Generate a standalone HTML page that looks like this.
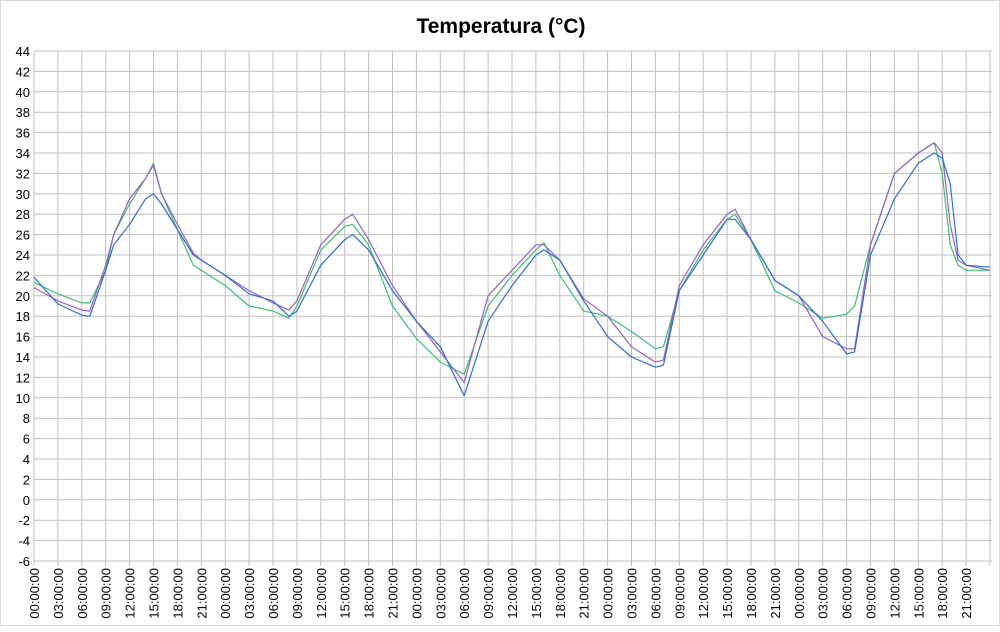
<!DOCTYPE html>
<html><head><meta charset="utf-8"><style>
body{margin:0;background:#fff;font-family:"Liberation Sans",sans-serif}
#wrap{position:relative;width:1000px;height:626px;border:1px solid #d9d9d9;box-sizing:border-box}
</style></head><body>
<div id="wrap">
<svg id="chart" width="1000" height="626"></svg>
</div>
<script>
const hours=[0,3,6,7,9,10,12,14,15,16,18,20,21,24,27,30,32,33,36,39,40,42,45,48,51,54,57,60,63,64,66,69,72,75,78,79,81,84,87,88,90,93,96,99,102,103,105,108,111,113,114,115,116,117,120];
const greenVals=[21.3,20.2,19.3,19.3,22.5,26,29,31.5,33,30,26.5,23,22.5,21,19,18.5,17.8,19,24.5,26.8,27,25,19,15.8,13.5,12.3,19,22,24.5,25.2,22,18.5,18,16.5,14.8,15,20.5,24.5,27.5,28,25.5,20.5,19.3,17.8,18.2,19,25,32,34,35,32,25,23,22.5,22.5];
const purpleVals=[20.8,19.5,18.6,18.5,23,26,29.5,31.5,32.8,30,27,24.2,23.5,22,20.5,19.3,18.6,19.5,25,27.5,28,25.5,21,17.5,14.5,11.5,20,22.5,25,25,23.5,19.7,18,15,13.5,13.7,21,25,28,28.5,25.5,21.5,20,16,14.8,14.8,25,32,34,35,34,27,23.5,23,22.5];
const blueVals=[21.8,19.2,18.1,18,22.5,25,27,29.5,30,29,26.5,24,23.5,22,20.2,19.5,18,18.5,23,25.5,26,24.5,20.5,17.5,15,10.2,17.5,21,24,24.5,23.5,19.5,16,14,13,13.2,20.5,24,27.5,27.5,25.5,21.5,20,17.5,14.3,14.5,24,29.5,33,34,33.5,31,24,23,22.8];
const yTicks=[-6,-4,-2,0,2,4,6,8,10,12,14,16,18,20,22,24,26,28,30,32,34,36,38,40,42,44];
const xTickLabels=["00:00:00","03:00:00","06:00:00","09:00:00","12:00:00","15:00:00","18:00:00","21:00:00"];
const NS="http://www.w3.org/2000/svg";
const svg=document.getElementById('chart');
const X0=33,X1=989,Y0=560,Y1=50,YMIN=-6,YMAX=44,HMAX=120;
const xs=h=>X0+(X1-X0)*h/HMAX;
const ys=v=>Y0-(Y0-Y1)*(v-YMIN)/(YMAX-YMIN);
function mk(t,a){const e=document.createElementNS(NS,t);for(const k in a)e.setAttribute(k,a[k]);svg.appendChild(e);return e;}
const title=mk('text',{x:500,y:32,'text-anchor':'middle','font-size':21,'font-weight':'bold','font-family':'Liberation Sans, sans-serif',fill:'#000'});
title.textContent='Temperatura (°C)';


yTicks.forEach(v=>{
 const l=mk('line',{x1:X0,x2:X1+2,y1:ys(v),y2:ys(v),stroke:'#bfbfbf','stroke-width':1});
 
 
 const t=mk('text',{x:29,y:ys(v)+5,'text-anchor':'end','font-size':13,fill:'#000'});
 t.textContent=v;
 
 
});
for(let i=0;i<=40;i++){
 const h=i*3,x=xs(h);
 const l=mk('line',{x1:x,x2:x,y1:Y1,y2:Y0+5,stroke:'#bfbfbf','stroke-width':1});
 
 
 if(i<40){
  const t=mk('text',{transform:`translate(${x+5},567) rotate(-90)`,'text-anchor':'end','font-size':13,fill:'#000'});
  t.textContent=xTickLabels[i%8];
  
  
 }
}
function series(vals,color,name){
 const d=hours.map((h,i)=>(i?'L':'M')+xs(h).toFixed(1)+','+ys(vals[i]).toFixed(1)).join(' ');
 const p=mk('path',{d:d,fill:'none',stroke:color,'stroke-width':1.2,'stroke-linejoin':'round'});
 
 
}
series(greenVals,'#3cbf74','series-green');
series(purpleVals,'#9a5fc8','series-purple');
series(blueVals,'#2e6fd1','series-blue');
</script>
</body></html>
